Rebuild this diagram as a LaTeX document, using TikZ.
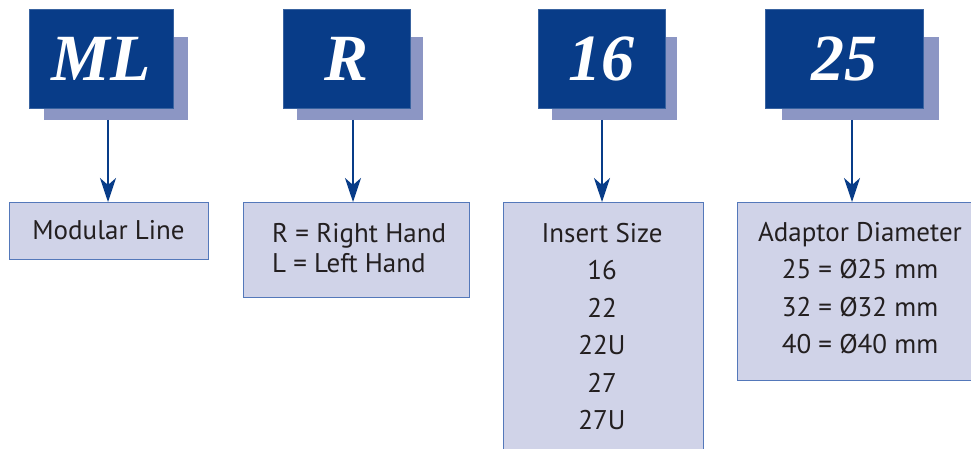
\documentclass[tikz,border=0pt]{standalone}
\usepackage{fontspec}
\setmainfont{PT Sans}
\newfontfamily\bigserif{Liberation Serif}
\usetikzlibrary{arrows.meta}
\definecolor{darkblue}{RGB}{8,60,136}
\definecolor{shadowblue}{RGB}{140,150,196}
\definecolor{lightfill}{RGB}{208,211,232}
\definecolor{lightedge}{RGB}{84,120,186}
\definecolor{txtgray}{RGB}{35,31,32}
\begin{document}
\begin{tikzpicture}[x=1pt,y=-1pt,
  codebox/.style={rectangle,fill=darkblue,draw=darkblue!80!white,line width=0.6pt,inner sep=0pt,
    text=white,font=\bigserif\bfseries\itshape\fontsize{66}{66}\selectfont},
  shadbox/.style={rectangle,fill=shadowblue,inner sep=0pt},
  infobox/.style={rectangle,fill=lightfill,draw=lightedge,line width=1pt,inner sep=0pt},
  infotext/.style={inner sep=0pt,text=txtgray,font=\fontsize{27}{37.5}\selectfont},
  conn/.style={draw=darkblue,line width=1.2pt,-{Stealth[length=24pt,width=16pt,inset=7pt]}}
]
\useasboundingbox (0,0) rectangle (971,449);
\fill[white] (0,0) rectangle (971,449);
% shadows
\node[shadbox,minimum width=144pt,minimum height=83pt] (sML) at (116,78.5) {};
\node[shadbox,minimum width=126pt,minimum height=83pt] (sR) at (360,78.5) {};
\node[shadbox,minimum width=125pt,minimum height=83pt] (s16) at (614.5,78.5) {};
\node[shadbox,minimum width=157pt,minimum height=83pt] (s25) at (860.5,78.5) {};
% code boxes
\node[codebox,minimum width=144pt,minimum height=99pt] (dML) at (101,58.5) {ML};
\node[codebox,minimum width=127pt,minimum height=99pt] (dR) at (346.5,58.5) {R};
\node[codebox,minimum width=127pt,minimum height=99pt] (d16) at (601.5,58.5) {16};
\node[codebox,minimum width=158pt,minimum height=99pt] (d25) at (844,58.5) {25};
% info boxes
\node[infobox,minimum width=199pt,minimum height=57pt,anchor=north west] (bML) at (9,202) {};
\node[infobox,minimum width=226pt,minimum height=95pt,anchor=north west] (bR) at (243,202) {};
\node[infobox,minimum width=200pt,minimum height=260pt,anchor=north west] (b16) at (503,202) {};
\node[infobox,minimum width=245pt,minimum height=178pt,anchor=north west] (b25) at (737,202) {};
% texts
\node[infotext] (tML) at (108.5,230) {Modular Line};
\node[infotext,align=left,anchor=north west,font=\fontsize{27}{30}\selectfont] (tR) at (272,223) {R = Right Hand\\L = Left Hand};
\node[infotext,align=center,anchor=north] (t16) at (602,223) {Insert Size\\16\\22\\22U\\27\\27U};
\node[infotext,align=center,anchor=north] (t25) at (860,222) {Adaptor Diameter\\25 = Ø25 mm\\32 = Ø32 mm\\40 = Ø40 mm};
% connectors
\coordinate (aML) at (108,120);
\coordinate (aR) at (353,120);
\coordinate (a16) at (602,120);
\coordinate (a25) at (852,120);
\draw[conn] (aML) -- (aML |- bML.north);
\draw[conn] (aR) -- (aR |- bR.north);
\draw[conn] (a16) -- (a16 |- b16.north);
\draw[conn] (a25) -- (a25 |- b25.north);
\end{tikzpicture}
\end{document}
